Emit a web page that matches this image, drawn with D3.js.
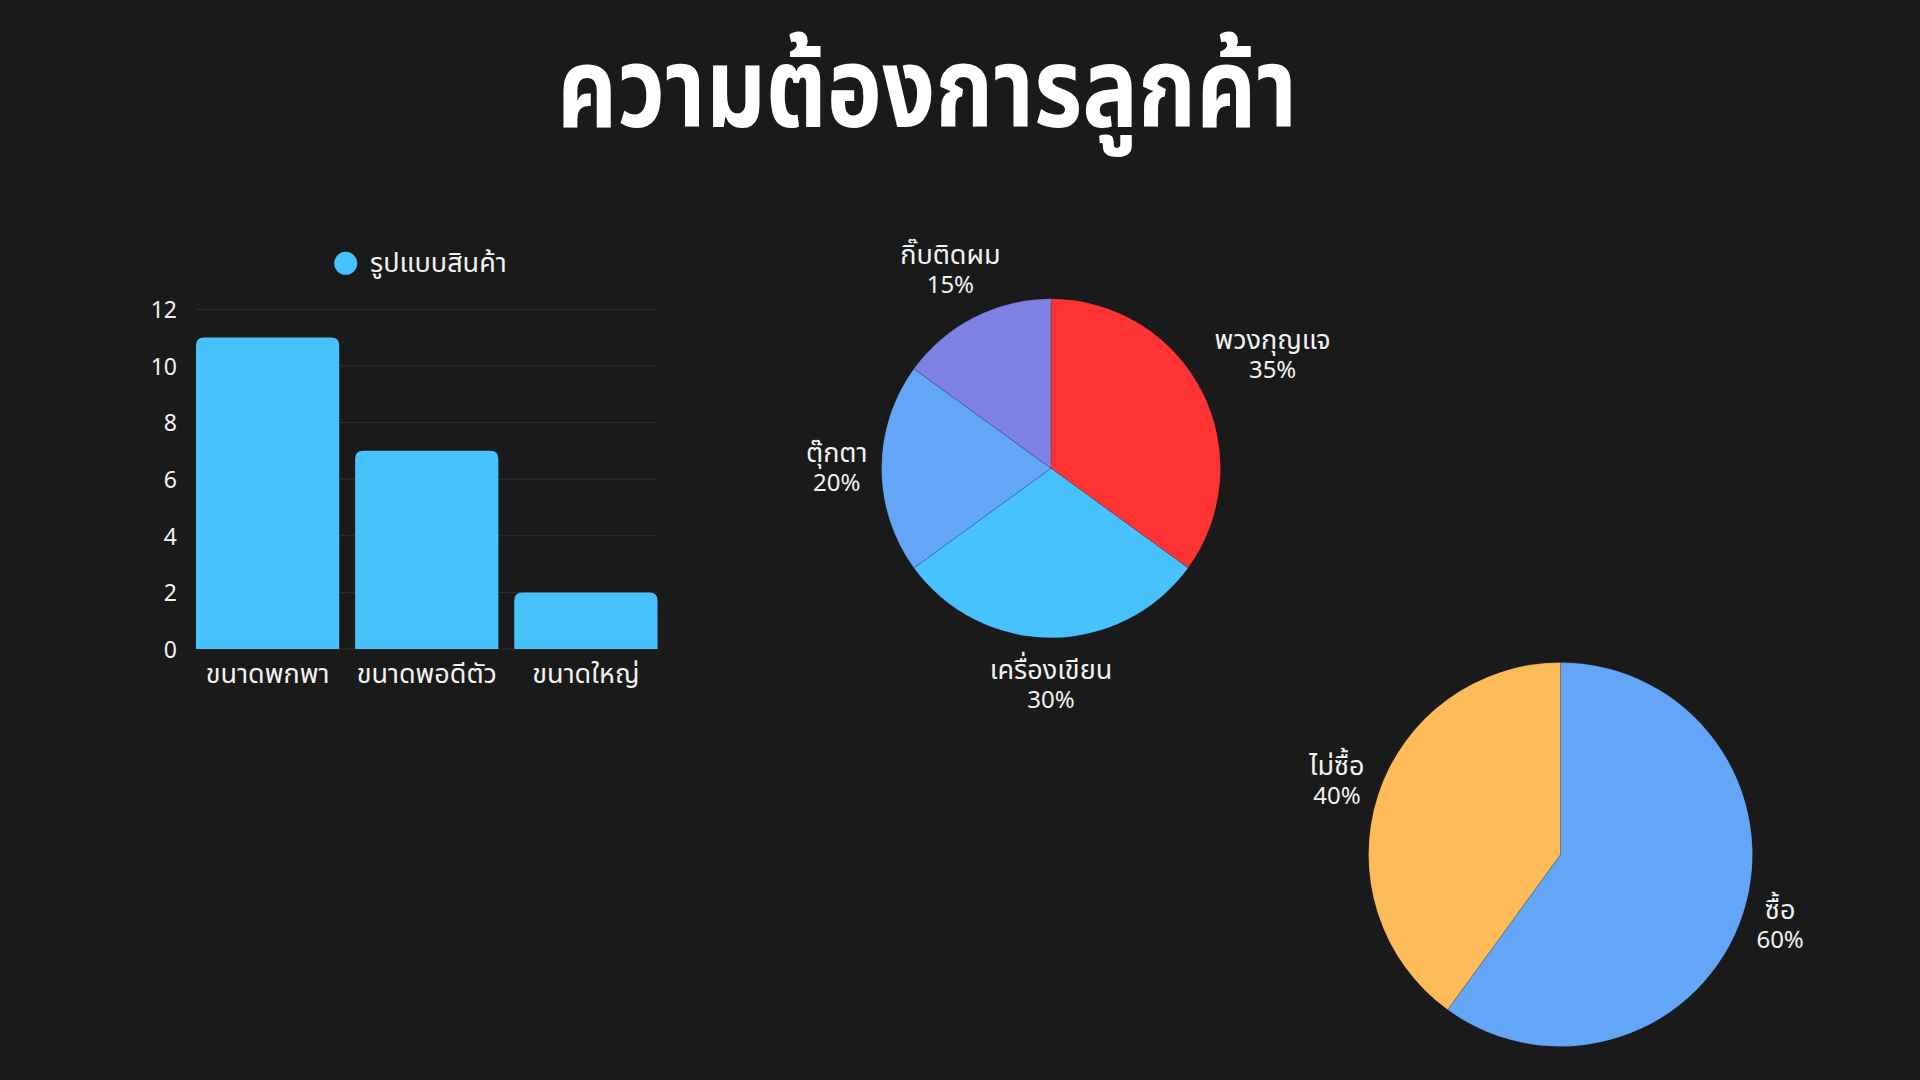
<!DOCTYPE html>
<html>
<head>
<meta charset="utf-8">
<script src="https://cdn.jsdelivr.net/npm/d3@7"></script>
<style>
  html, body { margin: 0; padding: 0; background: #1a1a1a; }
  svg { display: block; }
  text { font-family: "Noto Sans Thai", "Noto Sans Thai Looped", "Noto Sans", sans-serif; fill: #f2f2f2; }
</style>
</head>
<body>
<svg id="chart" width="1920" height="1080"></svg>
<script>
// ---------- data ----------
const titleText = "ความต้องการลูกค้า";

const barSeriesName = "รูปแบบสินค้า";
const barCategories = ["ขนาดพกพา", "ขนาดพอดีตัว", "ขนาดใหญ่"];
const barValues = [11, 7, 2];
const barTicks = [0, 2, 4, 6, 8, 10, 12];

const pie1Labels = ["พวงกุญแจ", "เครื่องเขียน", "ตุ๊กตา", "กิ๊บติดผม"];
const pie1Values = [35, 30, 20, 15];
const pie1Colors = ["#ff3333", "#47c2fc", "#63a5f7", "#7f82e5"];

const pie2Labels = ["ซื้อ", "ไม่ซื้อ"];
const pie2Values = [60, 40];
const pie2Colors = ["#63a5f7", "#fdbb59"];

const barColor = "#47c2fc";

// ---------- drawing ----------
const svg = d3.select("#chart");
svg.append("rect").attr("width", 1920).attr("height", 1080).attr("fill", "#1a1a1a");

const thaiSize = "27px", numSize = "24px", tickSize = "23px";

// title
svg.append("text")
  .attr("x", 557).attr("y", 127)
  .attr("textLength", 740).attr("lengthAdjust", "spacingAndGlyphs")
  .style("font-size", "112px").style("font-weight", "700")
  .style("fill", "#ffffff")
  .text(titleText);

// bar chart
const bx = d3.scaleBand().domain(barCategories).range([196, 657.5]).paddingInner(0.1).paddingOuter(0);
const by = d3.scaleLinear().domain([0, 12]).range([649, 309.3]);
const bar = svg.append("g");

bar.selectAll("line.grid").data(barTicks).join("line")
  .attr("class", "grid")
  .attr("x1", 196).attr("x2", 657.5)
  .attr("y1", d => by(d)).attr("y2", d => by(d))
  .attr("stroke", "#2f2f2f").attr("stroke-width", 1);

const yAxis = d3.axisLeft(by).tickValues(barTicks).tickSize(0).tickPadding(0);
const yg = bar.append("g").attr("transform", "translate(177,0)").call(yAxis);
yg.select(".domain").remove();
yg.selectAll("text").attr("dy", "0.36em").style("font-size", tickSize).style("fill", "#f2f2f2");

function topRoundedRect(x, y, w, h, r) {
  r = Math.min(r, h, w / 2);
  return `M${x},${y + h}V${y + r}Q${x},${y} ${x + r},${y}H${x + w - r}Q${x + w},${y} ${x + w},${y + r}V${y + h}Z`;
}
bar.selectAll("path.bar").data(barValues).join("path")
  .attr("class", "bar")
  .attr("fill", barColor)
  .attr("d", (d, i) => topRoundedRect(bx(barCategories[i]), by(d), bx.bandwidth(), by(0) - by(d), 8));

const xAxis = d3.axisBottom(bx).tickSize(0).tickPadding(0);
const xg = bar.append("g").attr("transform", "translate(0,649)").call(xAxis);
xg.select(".domain").remove();
xg.selectAll("text").attr("dy", null).attr("y", 34).style("font-size", thaiSize).style("fill", "#f2f2f2");

// legend
bar.append("circle").attr("cx", 345.7).attr("cy", 263.3).attr("r", 11.5).attr("fill", barColor);
bar.append("text").attr("x", 370).attr("y", 272).style("font-size", thaiSize).text(barSeriesName);

// pies
function drawPie(cx, cy, r, labels, values, colors) {
  const g = svg.append("g").attr("transform", `translate(${cx},${cy})`);
  const arcs = d3.pie().sort(null).value(d => d)(values);
  const arc = d3.arc().innerRadius(0).outerRadius(r);
  g.selectAll("path").data(arcs).join("path")
    .attr("d", arc)
    .attr("fill", (d, i) => colors[i])
    .attr("stroke", "rgba(0,0,0,0.25)").attr("stroke-width", 0.6);
  const total = d3.sum(values);
  const pad = 14, lineGap = 29, halfH = 34;
  arcs.forEach((d, i) => {
    const mid = (d.startAngle + d.endAngle) / 2;
    const dx = Math.sin(mid), dy = -Math.cos(mid);
    const t = g.append("text").attr("text-anchor", "middle");
    const l1 = t.append("tspan").attr("x", 0).attr("y", 0).style("font-size", thaiSize).text(labels[i]);
    const l2 = t.append("tspan").attr("x", 0).attr("y", lineGap).style("font-size", numSize)
      .text(Math.round(values[i] / total * 100) + "%");
    const w = Math.max(l1.node().getComputedTextLength(), l2.node().getComputedTextLength());
    const ex = Math.abs(dx) > 1e-6 ? (w / 2) / Math.abs(dx) : Infinity;
    const ey = Math.abs(dy) > 1e-6 ? halfH / Math.abs(dy) : Infinity;
    const dist = r + pad + Math.min(ex, ey);
    const px = dx * dist, py = dy * dist;
    t.attr("transform", `translate(${px},${py - lineGap / 2 + 8})`);
  });
}
drawPie(1051, 468.3, 169.5, pie1Labels, pie1Values, pie1Colors);
drawPie(1560.5, 854.5, 192, pie2Labels, pie2Values, pie2Colors);
</script>
</body>
</html>
